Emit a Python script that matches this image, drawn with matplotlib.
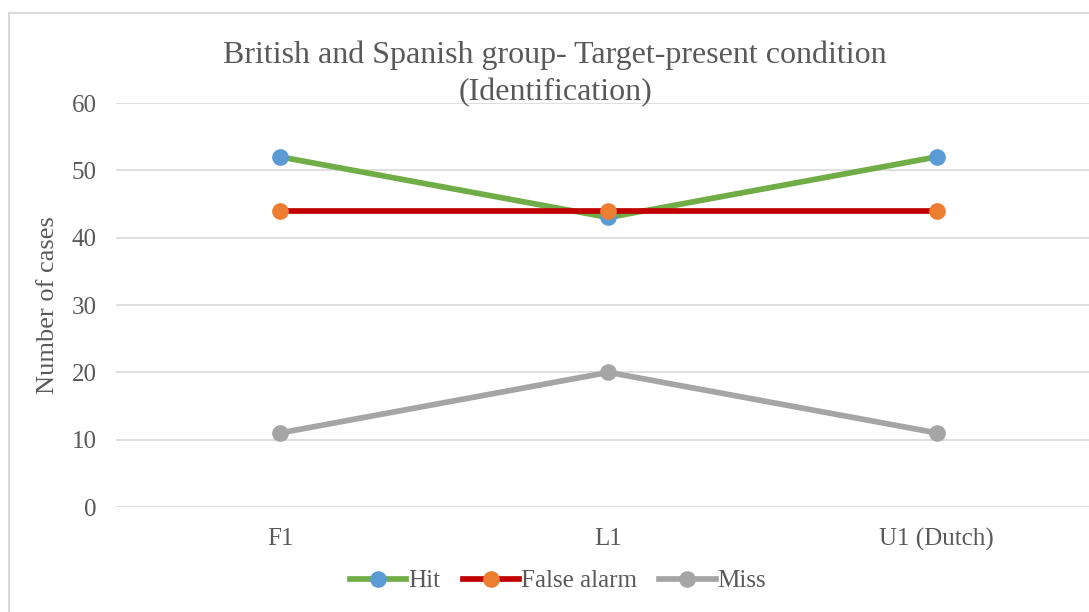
import matplotlib.pyplot as plt
from matplotlib.patches import Rectangle

# datos del gráfico
categorias = ["F1", "L1", "U1 (Dutch)"]
hit = [52, 43, 52]
false_alarm = [44, 44, 44]
miss = [11, 20, 11]

plt.rcParams['font.family'] = ['Liberation Serif', 'DejaVu Serif']
gris_texto = "#595959"

fig = plt.figure(figsize=(10.89, 6.12), dpi=100)
W, H = 1089, 612

# área del gráfico (se sale un poco por la derecha)
ax = fig.add_axes([116 / W, 1 - 507 / H, (1101 - 116) / W, (507 - 103) / H])

x = range(len(categorias))
ax.plot(x, hit, color="#70AD47", lw=4.1, marker="o", ms=11,
        mfc="#5B9BD5", mec="#5B9BD5", label="Hit")
ax.plot(x, false_alarm, color="#C00000", lw=4.1, marker="o", ms=11,
        mfc="#ED7D31", mec="#ED7D31", label="False alarm")
ax.plot(x, miss, color="#A5A5A5", lw=4.1, marker="o", ms=11,
        mfc="#A5A5A5", mec="#A5A5A5", label="Miss")

ax.set_xlim(-0.5, 2.5)
ax.set_ylim(0, 60)
ax.set_yticks(range(0, 61, 10))
ax.set_xticks(list(x))
ax.set_xticklabels(categorias)
ax.grid(axis="y", color="#D9D9D9", lw=1.2)
ax.set_axisbelow(True)
for s in ax.spines.values():
    s.set_visible(False)
ax.tick_params(length=0, labelsize=18, labelcolor=gris_texto)
ax.tick_params(axis="y", pad=14)
ax.tick_params(axis="x", pad=15)

fig.text(48 / W, 1 - 305 / H, "Number of cases", rotation=90, fontsize=19,
         color=gris_texto, ha="center", va="center")

fig.text(555 / W, 1 - 74 / H,
         "British and Spanish group- Target-present condition\n(Identification)",
         fontsize=23, color=gris_texto, ha="center", va="center", linespacing=1.38)

fig.legend(loc="center", bbox_to_anchor=(558 / W, 1 - 581 / H), ncol=3,
           frameon=False, fontsize=18, handlelength=2.25, handletextpad=0.08,
           columnspacing=0.9, labelcolor=gris_texto)

# borde exterior del gráfico
fig.patches.append(Rectangle((8.5 / W, -0.2), 1.2, 1.2 - 12.5 / H,
                             transform=fig.transFigure, fill=False,
                             ec="#D9D9D9", lw=1.5))

fig.savefig("out.png", dpi=100)
